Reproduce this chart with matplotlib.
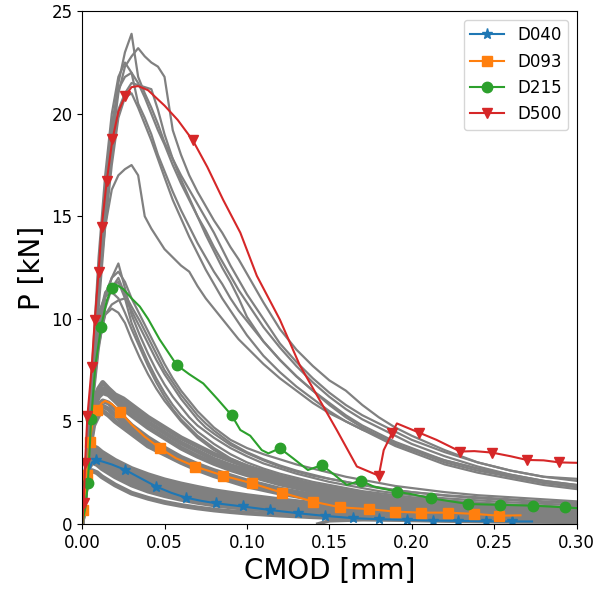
import numpy as np
import matplotlib
matplotlib.use('Agg')
import matplotlib.pyplot as plt
from matplotlib.lines import Line2D

# --- modelo: curvas con marcadores ---
d040_cmod = [0, 0.001, 0.002, 0.004, 0.006, 0.0085, 0.012, 0.018, 0.026, 0.035, 0.045, 0.054, 0.063, 0.072,
             0.081, 0.0975, 0.114, 0.131, 0.1475, 0.1646, 0.18, 0.197, 0.213, 0.228, 0.245, 0.261, 0.273]
d040_p = [0, 0.9, 1.7, 2.6, 3.0, 3.1, 3.05, 2.9, 2.64, 2.25, 1.82, 1.52, 1.28, 1.13,
          1.01, 0.85, 0.68, 0.52, 0.39, 0.28, 0.23, 0.2, 0.16, 0.15, 0.13, 0.12, 0.12]
d040_mk_cmod = [0.0085, 0.026, 0.045, 0.063, 0.081, 0.0975, 0.114, 0.131, 0.1475, 0.1646, 0.18, 0.197,
                0.213, 0.228, 0.245, 0.261]
d040_mk_p = [3.1, 2.64, 1.82, 1.28, 1.01, 0.85, 0.68, 0.52, 0.39, 0.28, 0.23, 0.2, 0.16, 0.15, 0.13, 0.12]

d093_cmod = [0, 0.0008, 0.0028, 0.0045, 0.0065, 0.0093, 0.012, 0.014, 0.018, 0.023, 0.03, 0.038, 0.0473,
             0.057, 0.0686, 0.0854, 0.103, 0.121, 0.14, 0.1566, 0.174, 0.19, 0.2057, 0.222, 0.238, 0.253, 0.266]
d093_p = [0, 0.7, 2.4, 4.0, 5.0, 5.56, 5.9, 6.0, 5.85, 5.47, 4.85, 4.25, 3.69,
          3.2, 2.8, 2.36, 1.98, 1.53, 1.09, 0.81, 0.72, 0.6, 0.55, 0.55, 0.49, 0.4, 0.42]
d093_mk_cmod = [0.0008, 0.0028, 0.0045, 0.0093, 0.023, 0.0473, 0.0686, 0.0854, 0.103, 0.121, 0.14,
                0.1566, 0.174, 0.19, 0.2057, 0.222, 0.238, 0.253]
d093_mk_p = [0.7, 2.4, 4.0, 5.56, 5.47, 3.69, 2.8, 2.36, 1.98, 1.53, 1.09, 0.81, 0.72, 0.6, 0.55, 0.55, 0.49, 0.4]

d215_cmod = [0, 0.002, 0.0035, 0.0055, 0.008, 0.0115, 0.015, 0.018, 0.021, 0.025, 0.03, 0.035, 0.04, 0.047,
             0.0574, 0.065, 0.0735, 0.082, 0.0908, 0.096, 0.102, 0.109, 0.113, 0.12, 0.128, 0.137, 0.1455,
             0.153, 0.1606, 0.169, 0.177, 0.191, 0.2, 0.2116, 0.2344, 0.2536, 0.2735, 0.2927, 0.3]
d215_p = [0, 0.8, 2.0, 5.1, 7.7, 9.6, 10.9, 11.5, 11.65, 11.45, 11.0, 10.6, 10.0, 9.0,
          7.75, 7.3, 6.85, 6.1, 5.29, 4.58, 4.3, 3.6, 3.44, 3.69, 3.2, 2.63, 2.87,
          2.4, 1.9, 2.11, 1.82, 1.57, 1.45, 1.25, 0.97, 0.93, 0.89, 0.81, 0.77]
d215_mk_cmod = [0.0035, 0.0055, 0.0115, 0.018, 0.0574, 0.0908, 0.12, 0.1455, 0.169, 0.191, 0.2116, 0.2344,
                0.2536, 0.2735, 0.2927]
d215_mk_p = [2.0, 5.1, 9.6, 11.5, 7.75, 5.29, 3.69, 2.87, 2.11, 1.57, 1.25, 0.97, 0.93, 0.89, 0.81]

d500_cmod = [0, 0.001, 0.0018, 0.0032, 0.0058, 0.0077, 0.010, 0.0119, 0.0149, 0.0184, 0.022, 0.026, 0.03,
             0.034, 0.04, 0.05, 0.058, 0.0672, 0.076, 0.0856, 0.096, 0.106, 0.12, 0.132, 0.1545, 0.1667,
             0.18, 0.183, 0.188, 0.191, 0.197, 0.2045, 0.215, 0.2294, 0.238, 0.2486, 0.26, 0.2698, 0.28,
             0.2896, 0.3]
d500_p = [0, 1.03, 2.98, 5.24, 7.63, 9.96, 12.3, 14.5, 16.7, 18.75, 20.1, 20.85, 21.3,
          21.35, 21.15, 20.4, 19.7, 18.7, 17.4, 15.8, 14.2, 12.1, 9.96, 7.75, 4.58, 2.8,
          2.35, 3.6, 4.42, 4.9, 4.7, 4.45, 4.1, 3.53, 3.55, 3.48, 3.3, 3.12, 3.1,
          3.0, 2.98]
d500_mk_cmod = [0.001, 0.0018, 0.0032, 0.0058, 0.0077, 0.010, 0.0119, 0.0149, 0.0184, 0.026, 0.0672, 0.18,
                0.188, 0.2045, 0.2294, 0.2486, 0.2698, 0.2896]
d500_mk_p = [1.03, 2.98, 5.24, 7.63, 9.96, 12.3, 14.5, 16.7, 18.75, 20.85, 18.7, 2.35,
             4.42, 4.45, 3.53, 3.48, 3.12, 3.0]

# --- ensayos (gris) ---
g500_cmod = [0, 0.003, 0.006, 0.01, 0.014, 0.018, 0.022, 0.026, 0.03, 0.034, 0.038, 0.042, 0.046, 0.05,
             0.055, 0.06, 0.065, 0.07, 0.075, 0.08, 0.085, 0.09, 0.095, 0.1, 0.11, 0.12, 0.13, 0.14, 0.15,
             0.16, 0.17, 0.18, 0.19, 0.2, 0.22, 0.24, 0.26, 0.28, 0.3]
g500_p = [
    [0, 3, 7, 12, 16, 19, 21.5, 23, 23.9, 21.8, 21.0, 20.3, 19.5, 18.6, 17.8, 17.0, 16.3, 15.6, 14.9, 14.2,
     13.4, 12.6, 11.9, 11.2, 10.0, 8.8, 7.9, 7.1, 6.4, 5.8, 5.3, 4.9, 4.5, 4.1, 3.5, 3.0, 2.6, 2.3, 2.1],
    [0, 2.8, 6.5, 11.5, 15.5, 18.5, 21, 22.3, 22.8, 23.2, 22.8, 22.5, 22.3, 21.8, 19.2, 18.0, 17.0, 16.2,
     15.5, 14.8, 14.2, 13.5, 12.9, 12.2, 10.8, 9.5, 8.5, 7.7, 7.0, 6.5, 5.8, 5.2, 4.7, 4.3, 3.6, 3.0, 2.6,
     2.3, 2.2],
    [0, 3, 7, 12.5, 16.5, 19.5, 21.2, 21.8, 22.0, 21.5, 20.8, 20.0, 19.2, 18.5, 17.5, 16.6, 15.8, 15.0,
     14.3, 13.5, 12.8, 12.1, 11.4, 10.8, 9.6, 8.6, 7.7, 6.9, 6.2, 5.6, 5.1, 4.7, 4.3, 3.9, 3.3, 2.8, 2.4,
     2.1, 1.9],
    [0, 2.7, 6.4, 11, 15, 18, 20.2, 21.0, 21.5, 21.4, 21.3, 21.2, 20.2, 19.0, 17.8, 16.8, 15.9, 15.0, 14.1,
     13.3, 12.5, 11.8, 11.0, 10.1, 8.9, 8.0, 7.2, 6.5, 5.9, 5.3, 4.8, 4.4, 4.0, 3.7, 3.1, 2.7, 2.3, 2.0, 1.8],
    [0, 3.2, 7.5, 13, 17, 20, 21.8, 22.5, 22.0, 20.5, 19.8, 19.0, 18.0, 17.2, 16.2, 15.3, 14.5, 13.7, 13.0,
     12.3, 11.7, 11.0, 10.4, 9.9, 8.9, 8.0, 7.2, 6.5, 5.8, 5.2, 4.7, 4.3, 3.9, 3.6, 3.0, 2.6, 2.3, 2.0, 1.8],
    [0, 3, 7, 11.5, 14.5, 16.3, 17.0, 17.3, 17.5, 17.0, 15.0, 14.4, 13.9, 13.4, 13.0, 12.6, 12.3, 11.6, 11.0,
     10.5, 10.0, 9.5, 9.0, 8.6, 7.8, 7.1, 6.5, 5.9, 5.4, 5.0, 4.6, 4.3, 3.9, 3.6, 3.1, 2.7, 2.4, 2.1, 1.9],
    [0, 2.5, 6, 10.5, 14.5, 17.5, 19.8, 20.8, 21.0, 20.3, 19.5, 18.7, 17.8, 16.9, 15.8, 14.9, 14.0, 13.2,
     12.4, 11.7, 11.0, 10.4, 9.8, 9.2, 8.2, 7.4, 6.7, 6.1, 5.5, 5.0, 4.6, 4.2, 3.8, 3.5, 2.9, 2.5, 2.2, 1.9,
     1.7],
]

g215_cmod = [0, 0.003, 0.006, 0.01, 0.014, 0.018, 0.022, 0.026, 0.03, 0.035, 0.04, 0.045, 0.05, 0.055,
             0.06, 0.065, 0.07, 0.075, 0.08, 0.09, 0.1, 0.11, 0.12, 0.13, 0.14, 0.15, 0.16, 0.17, 0.18, 0.19,
             0.2, 0.22, 0.24, 0.26, 0.28, 0.3]
g215_p = [
    [0, 3, 6.5, 9.5, 11.2, 12.0, 12.7, 11.5, 10.2, 9.2, 8.3, 7.5, 6.8, 6.2, 5.7, 5.2, 4.8, 4.5, 4.2, 3.7,
     3.3, 2.95, 2.7, 2.45, 2.25, 2.05, 1.9, 1.75, 1.6, 1.5, 1.4, 1.25, 1.15, 1.05, 0.98, 0.92],
    [0, 2.8, 6, 9, 11, 12.0, 12.3, 11.8, 11.0, 10.2, 9.4, 8.6, 7.8, 7.1, 6.5, 6.0, 5.5, 5.1, 4.7, 4.1,
     3.7, 3.4, 3.15, 2.9, 2.7, 2.5, 2.3, 2.15, 2.0, 1.85, 1.75, 1.55, 1.4, 1.3, 1.2, 1.1],
    [0, 3.2, 7, 10, 11.3, 11.6, 11.8, 11.0, 9.8, 8.8, 7.9, 7.1, 6.4, 5.8, 5.3, 4.9, 4.5, 4.2, 3.9, 3.4,
     3.0, 2.7, 2.45, 2.25, 2.05, 1.9, 1.75, 1.6, 1.5, 1.4, 1.3, 1.15, 1.05, 0.95, 0.88, 0.82],
    [0, 3.5, 7.5, 10.3, 11.1, 11.3, 11.0, 10.3, 9.5, 8.6, 7.7, 6.9, 6.2, 5.6, 5.1, 4.7, 4.3, 4.0, 3.7, 3.2,
     2.85, 2.55, 2.3, 2.1, 1.95, 1.8, 1.65, 1.5, 1.4, 1.3, 1.2, 1.05, 0.95, 0.87, 0.8, 0.75],
    [0, 2.6, 5.8, 8.7, 10.2, 10.7, 10.9, 11.0, 10.4, 9.6, 8.8, 8.0, 7.3, 6.7, 6.1, 5.6, 5.1, 4.7, 4.4, 3.85,
     3.45, 3.1, 2.8, 2.55, 2.35, 2.2, 2.05, 1.9, 1.75, 1.65, 1.55, 1.4, 1.3, 1.2, 1.1, 1.05],
    [0, 3, 6.5, 9.2, 10.2, 10.5, 10.3, 9.8, 9.0, 8.1, 7.3, 6.6, 6.0, 5.5, 5.0, 4.6, 4.2, 3.9, 3.6, 3.15,
     2.8, 2.5, 2.25, 2.05, 1.9, 1.75, 1.6, 1.48, 1.37, 1.28, 1.2, 1.07, 0.97, 0.9, 0.84, 0.8],
    [0, 2.4, 5.5, 8.5, 10.5, 11.5, 12.0, 11.2, 10.6, 9.9, 9.1, 8.3, 7.5, 6.9, 6.3, 5.8, 5.3, 4.9, 4.55, 3.95,
     3.5, 3.15, 2.85, 2.6, 2.4, 2.2, 2.05, 1.9, 1.78, 1.65, 1.55, 1.38, 1.25, 1.15, 1.07, 1.0],
]

g093_cmod = [0, 0.002, 0.004, 0.007, 0.01, 0.0125, 0.016, 0.02, 0.025, 0.03, 0.04, 0.05, 0.06, 0.07, 0.08,
             0.09, 0.1, 0.12, 0.14, 0.16, 0.18, 0.2, 0.22, 0.24, 0.26, 0.28, 0.3]
g093_p = [
    [0, 2.0, 4.2, 6.0, 6.6, 6.9, 6.6, 6.3, 6.1, 5.8, 5.2, 4.7, 4.2, 3.8, 3.4, 3.1, 2.8, 2.3, 1.9, 1.6, 1.35,
     1.15, 1.0, 0.88, 0.78, 0.7, 0.63],
    [0, 1.9, 4.0, 5.8, 6.4, 6.6, 6.45, 6.15, 5.85, 5.55, 4.95, 4.45, 3.95, 3.55, 3.15, 2.85, 2.6, 2.1, 1.75,
     1.48, 1.25, 1.06, 0.92, 0.81, 0.72, 0.65, 0.59],
    [0, 1.8, 3.9, 5.6, 6.2, 6.4, 6.3, 6.0, 5.6, 5.3, 4.7, 4.2, 3.7, 3.3, 2.95, 2.65, 2.4, 1.95, 1.6, 1.35,
     1.15, 0.98, 0.85, 0.75, 0.67, 0.6, 0.55],
    [0, 1.7, 3.6, 5.2, 5.8, 6.0, 5.9, 5.6, 5.2, 4.8, 4.2, 3.7, 3.25, 2.9, 2.6, 2.35, 2.1, 1.7, 1.4, 1.17,
     1.0, 0.85, 0.74, 0.65, 0.58, 0.52, 0.47],
    [0, 1.6, 3.45, 5.0, 5.55, 5.75, 5.6, 5.3, 4.95, 4.6, 4.0, 3.55, 3.1, 2.78, 2.48, 2.22, 1.98, 1.6, 1.3,
     1.1, 0.93, 0.8, 0.69, 0.6, 0.54, 0.49, 0.44],
    [0, 1.5, 3.3, 4.8, 5.3, 5.5, 5.3, 5.0, 4.7, 4.4, 3.8, 3.4, 3.0, 2.65, 2.35, 2.1, 1.85, 1.5, 1.22, 1.02,
     0.86, 0.74, 0.64, 0.56, 0.5, 0.45, 0.4],
]

g040_cmod = [0, 0.002, 0.004, 0.006, 0.009, 0.012, 0.016, 0.02, 0.025, 0.03, 0.04, 0.05, 0.06, 0.07, 0.08,
             0.09, 0.1, 0.12, 0.14, 0.16, 0.18, 0.2, 0.22, 0.24, 0.26, 0.28, 0.3]
g040_p = [
    [0, 2.4, 3.5, 3.8, 3.7, 3.5, 3.3, 3.1, 2.9, 2.7, 2.4, 2.15, 1.95, 1.78, 1.62, 1.5, 1.38, 1.18, 1.0,
     0.86, 0.74, 0.64, 0.56, 0.49, 0.43, 0.38, 0.34],
    [0, 2.25, 3.3, 3.6, 3.5, 3.3, 3.1, 2.9, 2.7, 2.5, 2.2, 1.95, 1.75, 1.58, 1.43, 1.31, 1.2, 1.02, 0.86,
     0.73, 0.63, 0.55, 0.48, 0.42, 0.37, 0.33, 0.29],
    [0, 2.1, 3.1, 3.4, 3.3, 3.1, 2.9, 2.7, 2.5, 2.3, 2.0, 1.75, 1.55, 1.38, 1.24, 1.12, 1.02, 0.85, 0.72,
     0.61, 0.52, 0.45, 0.39, 0.34, 0.3, 0.27, 0.24],
    [0, 1.95, 2.9, 3.2, 3.1, 2.9, 2.7, 2.5, 2.3, 2.1, 1.8, 1.56, 1.38, 1.22, 1.08, 0.97, 0.88, 0.73, 0.62,
     0.52, 0.44, 0.38, 0.33, 0.29, 0.26, 0.23, 0.21],
    [0, 1.8, 2.7, 3.0, 2.9, 2.7, 2.5, 2.3, 2.1, 1.9, 1.6, 1.38, 1.2, 1.05, 0.93, 0.83, 0.75, 0.62, 0.52,
     0.44, 0.37, 0.32, 0.28, 0.25, 0.22, 0.2, 0.18],
    [0, 1.5, 2.3, 2.6, 2.5, 2.3, 2.1, 1.9, 1.7, 1.5, 1.25, 1.05, 0.9, 0.78, 0.68, 0.6, 0.53, 0.43, 0.35,
     0.29, 0.24, 0.2, 0.17, 0.15, 0.13, 0.12, 0.11],
]
g_extra_cmod = [0.143, 0.15, 0.17, 0.2, 0.25, 0.3]
g_extra_p = [0, 0.15, 0.2, 0.2, 0.18, 0.15]

fig = plt.figure(figsize=(5.95, 5.92), dpi=100)
ax = fig.add_axes([0.138, 0.115, 0.831, 0.866])

gris = 'grey'
for p in g500_p:
    ax.plot(g500_cmod, p, color=gris, lw=1.6)
for p in g215_p:
    ax.plot(g215_cmod, p, color=gris, lw=1.6)
for p in g093_p:
    ax.plot(g093_cmod, p, color=gris, lw=3.5)
for p in g040_p:
    ax.plot(g040_cmod, p, color=gris, lw=3.5)
ax.plot(g_extra_cmod, g_extra_p, color=gris, lw=2.5)

series = [
    ('D040', d040_cmod, d040_p, d040_mk_cmod, d040_mk_p, 'tab:blue', '*', 8),
    ('D093', d093_cmod, d093_p, d093_mk_cmod, d093_mk_p, 'tab:orange', 's', 7.5),
    ('D215', d215_cmod, d215_p, d215_mk_cmod, d215_mk_p, 'tab:green', 'o', 7.5),
    ('D500', d500_cmod, d500_p, d500_mk_cmod, d500_mk_p, 'tab:red', 'v', 7.5),
]
handles = []
for name, xs, ys, mx, my, col, mk, ms in series:
    ax.plot(xs, ys, color=col, lw=1.5)
    ax.plot(mx, my, ls='none', marker=mk, ms=ms, color=col)
    handles.append(Line2D([], [], color=col, lw=1.5, marker=mk, ms=ms, label=name))

ax.set_xlim(0, 0.3)
ax.set_ylim(0, 25)
ax.set_xticks(np.arange(0, 0.31, 0.05))
ax.set_xticklabels(['%.2f' % v for v in np.arange(0, 0.31, 0.05)])
ax.set_yticks([0, 5, 10, 15, 20, 25])
ax.tick_params(labelsize=12)
ax.set_xlabel('CMOD [mm]', fontsize=20)
ax.set_ylabel('P [kN]', fontsize=20)
ax.legend(handles=handles, loc='upper right', fontsize=12)

plt.savefig('out.png')
